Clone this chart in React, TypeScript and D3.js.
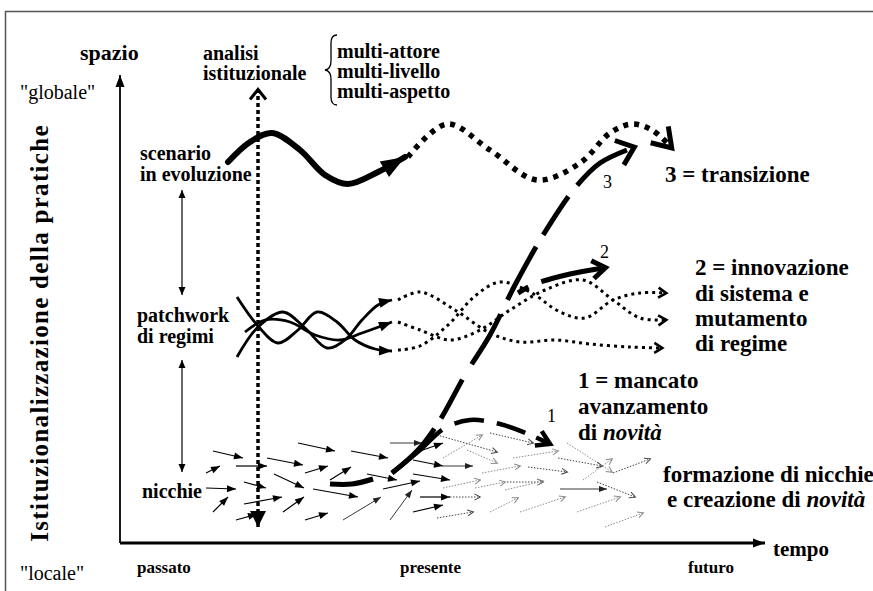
import React from 'react';
import * as d3 from 'd3';

type P = [number, number];

const W = 873;
const H = 591;

// diagram coordinates: t = tempo (0 at the origin), s = spazio (0 = "locale")
const tempoDomain: P = [0, 640];
const spazioDomain: P = [0, 468];

const tempoLabels = ['passato', 'presente', 'futuro'];
const levelLabels = [['scenario', 'in evoluzione'], ['patchwork', 'di regimi'], ['nicchie']];
const analisiAspects = ['multi-attore', 'multi-livello', 'multi-aspetto'];

// landscape (scenario) trajectory
const landscapePast: P[] = [[108, 381], [130, 401], [152, 410], [180, 393], [205, 368], [228, 359], [258, 371], [285, 386]];
const landscapeFuture: P[] = [[288, 386], [327, 419], [370, 393], [417, 363], [460, 380], [490, 410], [512, 419], [532, 413], [550, 397]];

// regimes braided strands
const regimesPast: P[][] = [
  [[117, 246], [138, 217], [158, 200], [178, 213], [197, 231], [217, 221], [235, 203], [255, 194], [272, 192]],
  [[117, 186], [138, 216], [163, 231], [185, 215], [207, 195], [225, 203], [242, 223], [258, 238], [272, 243]],
  [[125, 211], [145, 223], [170, 221], [195, 208], [220, 203], [242, 210], [272, 221]],
];
const regimesFuture: P[][] = [
  [[278, 243], [300, 251], [335, 233], [370, 210], [400, 201], [435, 203], [470, 199], [510, 196], [541, 195]],
  [[278, 193], [300, 197], [328, 218], [355, 247], [380, 261], [410, 251], [440, 231], [465, 225], [493, 243], [520, 250], [545, 250]],
  [[278, 221], [300, 213], [330, 203], [360, 213], [390, 233], [425, 253], [463, 263], [493, 243], [520, 225], [545, 223]],
];

// novelty paths 1, 2, 3
const nicheTrunk: P[] = [[210, 59], [232, 59], [253, 64]];
const path1: P[] = [[272, 70], [300, 93], [325, 115], [350, 123], [380, 119], [408, 109], [428, 100]];
const path2: P[] = [[398, 250], [415, 259], [450, 269], [483, 275]];
const path3: P[] = [[272, 70], [298, 93], [320, 123], [345, 168], [370, 208], [395, 258], [425, 311], [455, 355], [480, 380], [512, 395]];
const pathLabels: [string, number, number][] = [['1', 427, 121], ['2', 480, 285], ['3', 483, 355]];

// vertical institutional-analysis arrow and level links
const analisiLine: P[] = [[138, 16], [138, 452]];
const levelLinks: P[][] = [[[62, 353], [62, 248]], [[62, 183], [62, 71]]];

// niche arrows: t0, s0, t1, s1, kind (k = black, t = thin, d = dotted dark, g = dotted grey)
const nicheArrows: [number, number, number, number, string][] = [
  [93, 92, 123, 85, 'k'], [86, 70, 100, 77, 'k'], [116, 77, 147, 77, 'k'], [86, 55, 116, 54, 'k'],
  [124, 61, 146, 55, 'k'], [93, 31, 108, 46, 'k'], [124, 39, 162, 46, 'k'], [116, 23, 137, 29, 'k'],
  [147, 85, 183, 78, 'k'], [154, 69, 184, 55, 'k'], [185, 70, 208, 77, 'k'], [163, 31, 184, 46, 'k'],
  [178, 100, 215, 92, 'k'], [185, 23, 208, 30, 'k'], [193, 54, 238, 46, 'k'], [210, 63, 231, 76, 'k'],
  [231, 92, 268, 85, 'k'], [223, 23, 261, 46, 't'], [247, 69, 277, 63, 'k'], [263, 54, 300, 62, 'k'],
  [270, 23, 292, 53, 't'], [270, 100, 302, 100, 't'], [293, 83, 323, 77, 'k'], [300, 46, 330, 46, 'k'],
  [293, 31, 323, 38, 'k'], [293, 69, 330, 63, 'k'], [300, 92, 323, 100, 'k'], [323, 77, 353, 77, 't'],
  [317, 108, 377, 91, 'd'], [323, 85, 362, 108, 'g'], [370, 110, 413, 100, 'd'], [347, 93, 377, 80, 'g'],
  [393, 85, 438, 92, 'g'], [362, 70, 400, 77, 'g'], [408, 76, 447, 71, 'd'], [323, 55, 360, 63, 'g'],
  [355, 55, 385, 61, 'g'], [387, 61, 423, 61, 'd'], [440, 54, 487, 54, 't'], [447, 100, 492, 71, 'g'],
  [463, 63, 492, 84, 'g'], [493, 70, 530, 84, 'd'], [370, 31, 398, 45, 'g'], [400, 31, 445, 46, 'g'],
  [457, 31, 500, 46, 'g'], [317, 25, 353, 31, 'd'], [327, 46, 360, 46, 'd'], [477, 61, 515, 46, 'd'],
  [485, 16, 523, 30, 'g'], [438, 85, 482, 77, 'd'], [385, 53, 423, 62, 'g'],
];

const x = d3.scaleLinear().domain(tempoDomain).range([120, 760]);
const y = d3.scaleLinear().domain(spazioDomain).range([543, 75]);

const curve = d3.line<P>().x(d => x(d[0])).y(d => y(d[1])).curve(d3.curveCatmullRom.alpha(0.5));
const straight = d3.line<P>().x(d => x(d[0])).y(d => y(d[1]));

const FONT = "'Liberation Serif', 'Times New Roman', serif";

function Head({ id, w, h, open = false, sw = 0, color = '#000' }: any) {
  const d = open ? `M0,0L${w},${h / 2}L0,${h}` : `M0,0L${w},${h / 2}L0,${h}z`;
  return (
    <marker id={id} viewBox={`0 0 ${w} ${h}`} refX={open ? w - sw / 2 : w} refY={h / 2}
      markerWidth={w} markerHeight={h} orient="auto-start-reverse" markerUnits="userSpaceOnUse"
      style={{ overflow: 'visible' }}>
      <path d={d} fill={open ? 'none' : color} stroke={open ? color : 'none'} strokeWidth={sw}
        strokeLinejoin="miter" />
    </marker>
  );
}

export default function App() {
  const arrowStyle: Record<string, any> = {
    k: { stroke: '#000', width: 1.2, dash: null, head: 'url(#hK)' },
    t: { stroke: '#222', width: 0.9, dash: null, head: 'url(#hT)' },
    d: { stroke: '#444', width: 1, dash: '1.5 1.5', head: 'url(#hD)' },
    g: { stroke: '#8a8a8a', width: 1, dash: '1.5 1.5', head: 'url(#hG)' },
  };

  return (
    <div style={{ position: 'absolute', left: 0, top: 0 }}>
      <svg width={W} height={H} style={{ display: 'block', background: '#fff', fontFamily: FONT }}>
        <defs>
          <Head id="hK" w={9} h={7} />
          <Head id="hT" w={8} h={6} color="#222" />
          <Head id="hD" w={6} h={6} open sw={1} color="#444" />
          <Head id="hG" w={6} h={6} open sw={1} color="#8a8a8a" />
          <Head id="hAxis" w={12} h={9} />
          <Head id="hLink" w={8} h={7} />
          <Head id="hRegime" w={13} h={10} />
          <Head id="hRegimeDot" w={8} h={10} open sw={2.6} />
          <Head id="hLand" w={24} h={18} />
          <Head id="hLandDot" w={18} h={24} open sw={5} />
          <Head id="hAnalisiTop" w={10} h={16} open sw={3} />
          <Head id="hAnalisiBot" w={16} h={16} />
          <Head id="hP1" w={13} h={16} open sw={4.5} />
          <Head id="hP2" w={13} h={18} open sw={5} />
          <Head id="hP3" w={16} h={26} open sw={5} />
        </defs>

        {/* frame */}
        <path d={`M5.5,${H}V11.5H${W}`} fill="none" stroke="#555" strokeWidth={1.5} />

        {/* axes */}
        <line x1={x(0)} y1={y(0)} x2={x(0)} y2={y(468)} stroke="#000" strokeWidth={1.8} markerEnd="url(#hAxis)" />
        <line x1={x(0)} y1={y(0)} x2={x(645)} y2={y(0)} stroke="#000" strokeWidth={3} markerEnd="url(#hAxis)" />

        {/* level links */}
        {levelLinks.map((l, i) => (
          <path key={i} d={straight(l) || ''} stroke="#000" strokeWidth={1.2} fill="none"
            markerStart="url(#hLink)" markerEnd="url(#hLink)" />
        ))}

        {/* niche arrows */}
        {nicheArrows.map(([t0, s0, t1, s1, k], i) => {
          const st = arrowStyle[k];
          return (
            <line key={i} x1={x(t0)} y1={y(s0)} x2={x(t1)} y2={y(s1)} stroke={st.stroke}
              strokeWidth={st.width} strokeDasharray={st.dash || undefined} markerEnd={st.head} />
          );
        })}

        {/* analisi istituzionale */}
        <path d={straight(analisiLine) || ''} stroke="#000" strokeWidth={3.5} strokeDasharray="4 3" fill="none"
          markerStart="url(#hAnalisiBot)" markerEnd="url(#hAnalisiTop)" />

        {/* regimes */}
        {regimesPast.map((r, i) => (
          <path key={i} d={curve(r) || ''} fill="none" stroke="#000" strokeWidth={2.8} markerEnd="url(#hRegime)" />
        ))}
        {regimesFuture.map((r, i) => (
          <path key={i} d={curve(r) || ''} fill="none" stroke="#000" strokeWidth={3} strokeDasharray="3 4"
            markerEnd="url(#hRegimeDot)" />
        ))}

        {/* landscape */}
        <path d={curve(landscapePast) || ''} fill="none" stroke="#000" strokeWidth={6} strokeLinecap="round"
          markerEnd="url(#hLand)" />
        <path d={curve(landscapeFuture) || ''} fill="none" stroke="#000" strokeWidth={5.5} strokeDasharray="5 6"
          markerEnd="url(#hLandDot)" />

        {/* novelty paths */}
        <path d={curve(nicheTrunk) || ''} fill="none" stroke="#000" strokeWidth={5} />
        <path d={curve(path1) || ''} fill="none" stroke="#000" strokeWidth={4.5} strokeDasharray="66 14 30 13 30 12 60"
          markerEnd="url(#hP1)" />
        <path d={curve(path3) || ''} fill="none" stroke="#000" strokeWidth={5} strokeDasharray="62 12 44 18 58 16 60 14 46 14"
          markerEnd="url(#hP3)" />
        <path d={curve(path2) || ''} fill="none" stroke="#000" strokeWidth={5} strokeDasharray="12 14 80"
          markerEnd="url(#hP2)" />
        {pathLabels.map(([t, tx, ty]) => (
          <text key={t} x={x(tx)} y={y(ty)} fontSize={18}>{t}</text>
        ))}

        {/* brace */}
        <path d="M337,35 q-6,0 -6,8 v18 q0,8 -6,9 q6,1 6,9 v18 q0,8 6,8" fill="none" stroke="#000" strokeWidth={1.3} />

        {/* axis titles */}
        <text x={80} y={60} fontSize={22} fontWeight="bold">spazio</text>
        <text x={20} y={99} fontSize={20}>"globale"</text>
        <text x={20} y={580} fontSize={20}>"locale"</text>
        <text transform="translate(48,333) rotate(-90)" textAnchor="middle" fontSize={25} fontWeight="bold"
          letterSpacing={1.3}>
          Istituzionalizzazione della pratiche
        </text>
        <text x={773} y={556} fontSize={21} fontWeight="bold">tempo</text>
        {tempoLabels.map((l, i) => (
          <text key={l} x={[137, 400, 688][i]} y={573} fontSize={17} fontWeight="bold">{l}</text>
        ))}

        {/* analisi */}
        <text fontSize={20} fontWeight="bold">
          <tspan x={203} y={60}>analisi</tspan>
          <tspan x={203} y={80}>istituzionale</tspan>
        </text>
        <text fontSize={20} fontWeight="bold">
          {analisiAspects.map((a, i) => (
            <tspan key={a} x={337} y={58 + i * 20}>{a}</tspan>
          ))}
        </text>

        {/* level labels */}
        {levelLabels.map((lines, i) => (
          <text key={i} fontSize={20} fontWeight="bold">
            {lines.map((l, j) => (
              <tspan key={l} x={[140, 137, 142][i]} y={[160, 322, 498][i] + j * 21}>{l}</tspan>
            ))}
          </text>
        ))}

        {/* outcomes */}
        <text x={665} y={182} fontSize={23} fontWeight="bold">3 = transizione</text>
        <text fontSize={23} fontWeight="bold">
          <tspan x={695} y={275}>2 = innovazione</tspan>
          <tspan x={695} y={301}>di sistema e</tspan>
          <tspan x={695} y={326}>mutamento</tspan>
          <tspan x={695} y={351}>di regime</tspan>
        </text>
        <text fontSize={23} fontWeight="bold">
          <tspan x={578} y={388}>1 = mancato</tspan>
          <tspan x={578} y={414}>avanzamento</tspan>
          <tspan x={578} y={440}>di <tspan fontStyle="italic">novità</tspan></tspan>
        </text>
        <text fontSize={23} fontWeight="bold">
          <tspan x={663} y={482}>formazione di nicchie</tspan>
          <tspan x={667} y={507}>e creazione di <tspan fontStyle="italic">novità</tspan></tspan>
        </text>
      </svg>
    </div>
  );
}
